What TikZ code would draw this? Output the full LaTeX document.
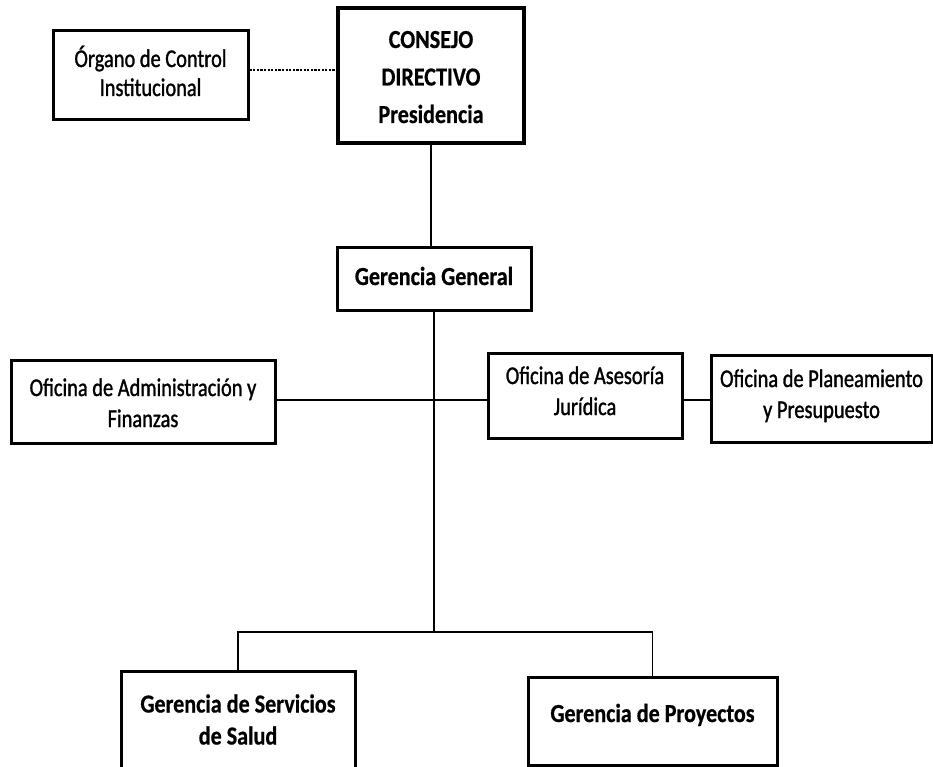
\documentclass[tikz,border=0pt]{standalone}
\usepackage{fontspec}
\setmainfont{Carlito}
\newfontfamily\regfam[FakeStretch=0.8,FakeBold=1.2]{Carlito}
\newfontfamily\boldfam[FakeStretch=0.85,FakeBold=0.6]{Carlito}
\begin{document}
\begin{tikzpicture}[x=1pt,y=-1pt,
  box/.style={draw=black, line width=3pt, fill=white, align=center, inner sep=0pt,
    text depth=0pt, font=\regfam\fontsize{25.5}{31}\selectfont},
  bbox/.style={box, font=\boldfam\bfseries\fontsize{26}{32}\selectfont},
  conn/.style={draw=black, line width=1.6pt},
  dconn/.style={draw=black, line width=1.6pt, dash pattern=on 2.2pt off 1.4pt}]
\useasboundingbox (0,0) rectangle (933,767);
% boxes
\node[box, minimum width=195, minimum height=89, text height=41pt,
  font=\regfam\fontsize{25.5}{29}\selectfont] (org) at (150.5,75.5) {Órgano de Control\\Institucional};
\node[bbox, line width=3.5pt, minimum width=186, minimum height=135, text height=95pt,
  font=\boldfam\bfseries\fontsize{26}{37.5}\selectfont] (con) at (431,75.5) {CONSEJO\\DIRECTIVO\\Presidencia};
\node[bbox, minimum width=194, minimum height=63, text height=13pt] (gg) at (434,278.5) {Gerencia General};
\node[box, minimum width=264, minimum height=83, text height=51pt] (adm) at (143,401.5) {Oficina de Administración y\\Finanzas};
\node[box, minimum width=194, minimum height=85, text height=39pt] (ase) at (585,395.5) {Oficina de Asesoría\\Jurídica};
\node[box, minimum width=221, minimum height=87, text height=39pt] (pla) at (821.5,398.5) {Oficina de Planeamiento\\y Presupuesto};
\node[bbox, anchor=north, minimum width=234, minimum height=126, text height=20pt] (sal) at (238,670) {Gerencia de Servicios\\de Salud};
\node[bbox, minimum width=249, minimum height=88, text height=2pt] (pro) at (652.5,721) {Gerencia de Proyectos};
\coordinate (jn) at (433,632);
% connectors
\draw[dconn] ([yshift=5.5pt]org.east) -- ([yshift=5.5pt]org.east -| con.west);
\draw[conn] (con.south) -- (con.south |- gg.north);
\draw[conn] (gg.south) -- (gg.south |- jn);
\draw[conn] ([yshift=1.5pt]adm.east) -- ([yshift=1.5pt]adm.east -| ase.west);
\draw[conn] ([yshift=1.5pt]adm.east -| ase.east) -- ([yshift=1.5pt]adm.east -| pla.west);
\draw[conn] (sal.north) |- (jn) -| (pro.north);
\end{tikzpicture}
\end{document}
